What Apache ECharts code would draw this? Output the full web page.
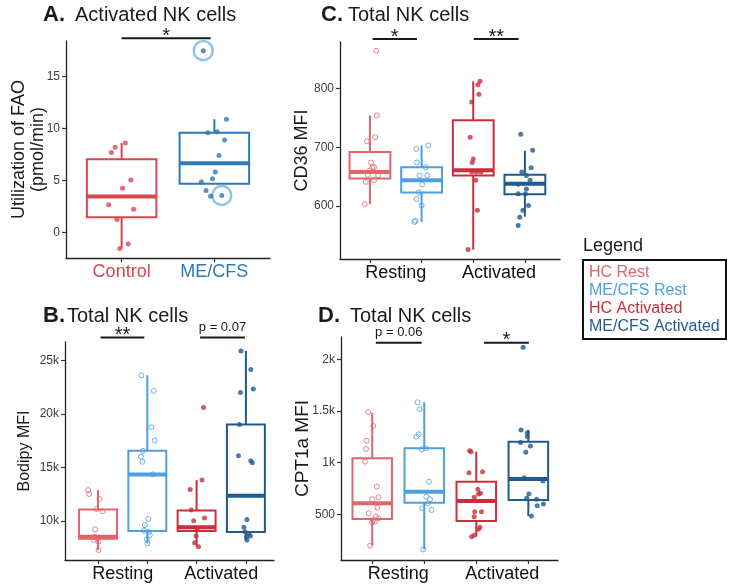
<!DOCTYPE html>
<html><head><meta charset="utf-8">
<script src="https://cdn.jsdelivr.net/npm/echarts@6/dist/echarts.min.js"></script>
<style>html,body{margin:0;padding:0;background:#fff}#c{width:733px;height:586px}</style>
</head><body><div id="c"></div>
<script>
// ---------------- DATA ----------------
// Panel A (Activated NK cells, FAO utilization)
const aCategories = ['Control', 'ME/CFS'];
const aControlY   = [8.2, 7.7, 8.6, 5.06, 4.26, 2.66, 2.24, 1.25, -1.54, -1.12];
const aControlJit = [-0.07, -0.11, 0.04, 0.10, 0.01, -0.14, 0.13, -0.05, -0.02, 0.07];
const aControlBox = [-1.54, 1.47, 3.46, 7.05, 8.6];
const aMecfsY   = [17.5, 10.9, 9.6, 9.7, 8.9, 7.4, 5.83, 4.87, 5.16, 4.04, 3.49, 3.56];
const aMecfsJit = [-0.12, 0.13, -0.07, 0.03, 0.11, 0.05, 0.01, -0.14, -0.02, -0.09, -0.04, 0.08];
const aMecfsBox = [4.68, 4.68, 6.67, 9.6, 10.9];
const aHighlighted = [0, 11];
const aTicks = [0, 5, 10, 15];

// Panel B (Bodipy MFI)
const bHcRestY   = [12890, 12516, 12050, 11118, 10932, 9224, 8540, 8230, 8074, 7298];
const bHcRestJit = [-0.20, -0.18, 0.03, -0.03, 0.09, -0.06, -0.07, -0.09, 0.01, 0.01];
const bHcRestBox = [7300, 8354, 8540, 11087, 12890];
const bMeRestY   = [23600, 22145, 18760, 17516, 16550, 15995, 15530, 14350, 10190, 9630, 9100, 8975, 8700, 8290, 7920];
const bMeRestJit = [-0.12, 0.13, 0.08, 0.15, -0.09, -0.13, -0.10, 0.11, 0.02, -0.05, -0.07, 0.03, 0.05, -0.01, 0.00];
const bMeRestBox = [7920, 9068, 14350, 16554, 23600];
const bHcActY   = [20590, 13820, 12950, 11025, 10030, 10280, 9224, 8600, 7980, 7610];
const bHcActJit = [0.14, 0.11, -0.13, -0.11, -0.06, 0.16, 0.01, -0.01, -0.04, 0.04];
const bHcActBox = [7610, 9068, 9410, 10994, 13820];
const bMeActY   = [25870, 24130, 22330, 21990, 19000, 16090, 15620, 15435, 10155, 9410, 9000, 8850, 8540, 8600, 8230];
const bMeActJit = [-0.10, 0.10, 0.15, -0.11, -0.13, -0.15, 0.10, 0.13, 0.02, -0.04, -0.02, 0.06, 0.01, 0.09, 0.02];
const bMeActBox = [8230, 8975, 12360, 19000, 25870];
const bTicks = [10000, 15000, 20000, 25000];
const bTickLabels = ['10k', '15k', '20k', '25k'];

// Panel C (CD36 MFI)
const cHcRestY   = [864, 754, 717, 710, 674, 666, 666, 660, 652, 653, 644, 641, 603];
const cHcRestJit = [0.12, 0.13, 0.10, -0.06, 0.02, 0.05, 0.08, -0.01, 0.16, -0.04, 0.08, -0.08, -0.10];
const cHcRestBox = [603, 647, 658, 692, 754];
const cMeRestY   = [697, 703, 674, 666, 652, 652, 637, 623, 612, 601, 575, 573];
const cMeRestJit = [-0.10, 0.13, -0.09, 0.08, -0.04, 0.11, 0.01, -0.05, -0.10, 0.00, -0.12, -0.14];
const cMeRestBox = [573, 623, 644, 666, 703];
const cHcActY   = [812, 806, 790, 777, 717, 680, 674, 658, 658, 658, 644, 593, 526];
const cHcActJit = [0.13, 0.09, 0.11, -0.03, -0.06, 0.00, -0.02, -0.03, 0.06, 0.15, 0.05, 0.08, -0.10];
const cHcActBox = [526, 652, 661, 746, 812];
const cMeActY   = [722, 695, 665, 658, 652, 644, 637, 629, 621, 621, 601, 593, 581, 567];
const cMeActJit = [-0.08, 0.15, 0.12, -0.06, 0.03, 0.10, -0.13, 0.03, -0.13, 0.01, 0.07, -0.04, -0.10, -0.13];
const cMeActBox = [582, 620, 638, 653, 694];
const cTicks = [600, 700, 800];

// Panel D (CPT1a MFI)
const dHcRestY   = [1490, 1355, 1213, 1132, 1010, 768, 665, 645, 565, 510, 477, 461, 445, 423, 430, 197];
const dHcRestJit = [-0.08, 0.02, -0.11, -0.12, -0.14, 0.09, 0.12, 0.00, 0.10, -0.07, 0.07, 0.12, 0.02, 0.00, 0.05, -0.04];
const dHcRestBox = [197, 455, 606, 1042, 1484];
const dMeRestY   = [1584, 1516, 1274, 1252, 1129, 1139, 816, 671, 645, 607, 558, 542, 161];
const dMeRestJit = [-0.13, -0.09, -0.11, -0.15, -0.05, 0.03, 0.09, 0.04, 0.11, 0.06, -0.04, 0.14, -0.02];
const dMeRestBox = [161, 613, 719, 1139, 1584];
const dHcActY   = [1116, 1106, 903, 913, 742, 697, 703, 665, 526, 526, 477, 374, 355, 284, 297];
const dHcActJit = [-0.13, -0.10, -0.14, 0.12, 0.03, 0.04, 0.08, -0.04, 0.10, -0.03, -0.04, 0.07, 0.04, -0.09, -0.04];
const dHcActBox = [284, 435, 629, 816, 1106];
const dMeActY   = [2116, 1316, 1290, 1252, 1194, 1161, 1100, 855, 823, 697, 655, 645, 600, 584, 484];
const dMeActJit = [-0.10, -0.14, -0.02, -0.02, -0.15, 0.04, -0.05, -0.08, 0.28, 0.01, -0.03, 0.16, 0.29, 0.17, 0.06];
const dMeActBox = [484, 639, 842, 1203, 1316];
const dTicks = [500, 1000, 1500, 2000];
const dTickLabels = ['500', '1k', '1.5k', '2k'];

// shared
const conditionLabels = ['Resting', 'Activated'];
const conditionPos = [1.5, 3.5];
const groupPos = [1, 2, 3, 4];
const legendLabels = ['HC Rest', 'ME/CFS Rest', 'HC Activated', 'ME/CFS Activated'];

// significance annotations: [x1, x2, y, label]
const sigA = [[1.0, 1.96, 18.69, '*']];
const sigB = [[1.05, 1.94, 27115, '**'], [3.07, 3.98, 27115, 'p = 0.07']];
const sigC = [[1.05, 1.91, 883.9, '*'], [3.01, 3.88, 883.9, '**']];
const sigD = [[1.07, 1.95, 2160, 'p = 0.06'], [3.15, 4.01, 2160, '*']];

// ---------------- STYLE ----------------
const FONT = '"Liberation Sans", Arial, Helvetica, sans-serif';
const COL = {hcRest:'#e0666b', meRest:'#4ca0e0', hcAct:'#c92f3b', meAct:'#1f5b8f',
             aCtrl:'#d9474e', aMe:'#2e79b7', ring:'#93c3e6', ink:'#1a1a1a'};
const legendColors = [COL.hcRest, COL.meRest, COL.hcAct, COL.meAct];

function grp(pos, y, jit, box, color, hollow){ return {pos, y, jit, box, color, hollow}; }
const panels = [
  {grid:{left:66, top:41, width:204, height:217}, xr:[0.4, 2.6], yr:[-2.46, 18.43], bw:0.75,
   ticks:aTicks, tickLabels:aTicks.map(String), name:'Utilization of FAO\n(pmol/min)', nameSize:18, nameGap:18, nameLH:19,
   xTicks:[1,2], xLabelPos:[1,2], xLabels:aCategories, xColored:true, sig:sigA,
   groups:[grp(1, aControlY, aControlJit, aControlBox, COL.aCtrl, false),
           grp(2, aMecfsY, aMecfsJit, aMecfsBox, COL.aMe, false)]},
  {grid:{left:65, top:342, width:209, height:218}, xr:[0.33, 4.57], yr:[6366, 26705], bw:0.77,
   ticks:bTicks, tickLabels:bTickLabels, name:'Bodipy MFI', nameSize:16, nameGap:31, nameLH:18,
   xTicks:groupPos, xLabelPos:conditionPos, xLabels:conditionLabels, sig:sigB,
   groups:[grp(1, bHcRestY, bHcRestJit, bHcRestBox, COL.hcRest, true),
           grp(2, bMeRestY, bMeRestJit, bMeRestBox, COL.meRest, true),
           grp(3, bHcActY, bHcActJit, bHcActBox, COL.hcAct, false),
           grp(4, bMeActY, bMeActJit, bMeActBox, COL.meAct, false)]},
  {grid:{left:340, top:42, width:220, height:217}, xr:[0.42, 4.68], yr:[510, 878.8], bw:0.79,
   ticks:cTicks, tickLabels:cTicks.map(String), name:'CD36 MFI', nameSize:18, nameGap:28, nameLH:20,
   xTicks:groupPos, xLabelPos:conditionPos, xLabels:conditionLabels, sig:sigC,
   groups:[grp(1, cHcRestY, cHcRestJit, cHcRestBox, COL.hcRest, true),
           grp(2, cMeRestY, cMeRestJit, cMeRestBox, COL.meRest, true),
           grp(3, cHcActY, cHcActJit, cHcActBox, COL.hcAct, false),
           grp(4, cMeActY, cMeActJit, cMeActBox, COL.meAct, false)]},
  {grid:{left:341, top:337, width:217, height:223}, xr:[0.40, 4.57], yr:[58, 2216], bw:0.76,
   ticks:dTicks, tickLabels:dTickLabels, name:'CPT1a MFI', nameSize:19, nameGap:28, nameLH:21,
   xTicks:groupPos, xLabelPos:conditionPos, xLabels:conditionLabels, sig:sigD,
   groups:[grp(1, dHcRestY, dHcRestJit, dHcRestBox, COL.hcRest, true),
           grp(2, dMeRestY, dMeRestJit, dMeRestBox, COL.meRest, true),
           grp(3, dHcActY, dHcActJit, dHcActBox, COL.hcAct, false),
           grp(4, dMeActY, dMeActJit, dMeActBox, COL.meAct, false)]}
];

const grids = [], xAxes = [], yAxes = [], series = [];
panels.forEach((p, gi) => {
  grids.push(Object.assign({containLabel:false}, p.grid));
  const rich = {};
  if (p.xColored) p.groups.forEach((g, i) => { rich['c' + i] = {color: g.color, fontSize: 18, fontFamily: FONT}; });
  xAxes.push({
    type:'value', gridIndex:gi, min:p.xr[0], max:p.xr[1],
    axisLine:{show:true, onZero:false, lineStyle:{color:'#222', width:1.3}},
    axisTick:{show:true, customValues:p.xTicks, length:4, lineStyle:{color:'#333', width:1.2}},
    axisLabel:{customValues:p.xLabelPos, fontSize:18, fontFamily:FONT, color:'#111', margin:5,
      rich:rich,
      formatter:(v) => { const i = p.xLabelPos.indexOf(v); if (i < 0) return ''; return p.xColored ? '{c' + i + '|' + p.xLabels[i] + '}' : p.xLabels[i]; }},
    splitLine:{show:false}
  });
  yAxes.push({
    type:'value', gridIndex:gi, min:p.yr[0], max:p.yr[1],
    axisLine:{show:true, onZero:false, lineStyle:{color:'#222', width:1.3}},
    axisTick:{show:true, customValues:p.ticks, length:4, lineStyle:{color:'#333', width:1.2}},
    axisLabel:{customValues:p.ticks, fontSize:12, fontFamily:FONT, color:'#3c3c3c', margin:6,
      formatter:(v) => { const i = p.ticks.indexOf(v); return i < 0 ? '' : p.tickLabels[i]; }},
    splitLine:{show:false},
    name:p.name, nameLocation:'middle', nameGap:p.nameGap, nameMoveOverlap:false,
    nameTextStyle:{fontSize:p.nameSize, fontFamily:FONT, color:COL.ink, lineHeight:p.nameLH}
  });
  // boxes
  series.push({
    type:'custom', xAxisIndex:gi, yAxisIndex:gi, clip:false, z:2,
    data:p.groups.map(g => [g.pos].concat(g.box)),
    encode:{x:0, y:[1,2,3,4,5]},
    renderItem:(params, api) => {
      const g = p.groups[params.dataIndex];
      const x = api.value(0);
      const lo = api.coord([x, api.value(1)]), q1 = api.coord([x, api.value(2)]),
            md = api.coord([x, api.value(3)]), q3 = api.coord([x, api.value(4)]),
            hi = api.coord([x, api.value(5)]);
      const half = api.size([p.bw, 0])[0] / 2;
      const st = {stroke:g.color, lineWidth:2, fill:null};
      return {type:'group', children:[
        {type:'line', shape:{x1:lo[0], y1:lo[1], x2:q1[0], y2:q1[1]}, style:st},
        {type:'line', shape:{x1:q3[0], y1:q3[1], x2:hi[0], y2:hi[1]}, style:st},
        {type:'rect', shape:{x:q3[0]-half, y:q3[1], width:2*half, height:q1[1]-q3[1]}, style:{stroke:g.color, lineWidth:2, fill:'rgba(255,255,255,0)'}},
        {type:'line', shape:{x1:md[0]-half, y1:md[1], x2:md[0]+half, y2:md[1]}, style:{stroke:g.color, lineWidth:4}}
      ]};
    }
  });
  // points
  p.groups.forEach(g => {
    series.push({
      type:'scatter', xAxisIndex:gi, yAxisIndex:gi, z:5, silent:true,
      symbol:'circle',
      symbolSize: 5,
      itemStyle: g.hollow ? {color:'rgba(255,255,255,0)', borderColor:g.color, borderWidth:1} : {color:g.color},
      data: g.y.map((v, i) => [g.pos + g.jit[i], v])
    });
  });
  // significance bars
  series.push({
    type:'custom', xAxisIndex:gi, yAxisIndex:gi, clip:false, z:6,
    data:p.sig.map(s => [s[0], s[1], s[2]]),
    encode:{x:[0,1], y:2},
    renderItem:(params, api) => {
      const s = p.sig[params.dataIndex];
      const a = api.coord([api.value(0), api.value(2)]), b = api.coord([api.value(1), api.value(2)]);
      const isStar = /^\*+$/.test(s[3]);
      return {type:'group', children:[
        {type:'line', shape:{x1:a[0], y1:a[1], x2:b[0], y2:b[1]}, style:{stroke:'#1a1a1a', lineWidth:2}},
        {type:'text', x:(a[0]+b[0])/2, y: isStar ? a[1] - 2 : a[1] - 10,
         style:{text:s[3], fill:'#1a1a1a', font: isStar ? ('20px ' + FONT) : ('13px ' + FONT),
                align:'center', verticalAlign:'middle', textAlign:'center', textVerticalAlign:'middle'}}
      ]};
    }
  });
});

// highlight rings in panel A
series.push({
  type:'scatter', xAxisIndex:0, yAxisIndex:0, z:4, silent:true,
  symbol:'circle', symbolSize:19,
  itemStyle:{color:'rgba(255,255,255,0)', borderColor:COL.ring, borderWidth:2.4, opacity:1},
  data: aHighlighted.map(i => [2 + aMecfsJit[i], aMecfsY[i]])
});

function txt(x, y, text, font, fill){
  return {type:'text', x:x, y:y, style:{text:text, font:font, fill:fill||COL.ink, verticalAlign:'middle', textVerticalAlign:'middle'}};
}
const graphics = [
  txt(43, 15, 'A.', 'bold 22px ' + FONT), txt(75, 15, 'Activated NK cells', '20px ' + FONT),
  txt(43, 316, 'B.', 'bold 22px ' + FONT), txt(67, 316, 'Total NK cells', '20px ' + FONT),
  txt(321, 15, 'C.', 'bold 22px ' + FONT), txt(348, 15, 'Total NK cells', '20px ' + FONT),
  txt(318, 316, 'D.', 'bold 22px ' + FONT), txt(350, 316, 'Total NK cells', '20px ' + FONT),
  txt(583, 246, 'Legend', '18px ' + FONT),
  {type:'rect', shape:{x:583, y:260, width:143, height:79}, style:{fill:'#fff', stroke:'#111', lineWidth:2}}
];
legendLabels.forEach((t, i) => graphics.push(txt(589, 273 + i * 18, t, '16px ' + FONT, legendColors[i])));

const chart = echarts.init(document.getElementById('c'), null, {renderer:'canvas'});
chart.setOption({
  animation:false, backgroundColor:'#fff',
  grid:grids, xAxis:xAxes, yAxis:yAxes, series:series, graphic:{elements:graphics}
});
</script>
</body></html>
